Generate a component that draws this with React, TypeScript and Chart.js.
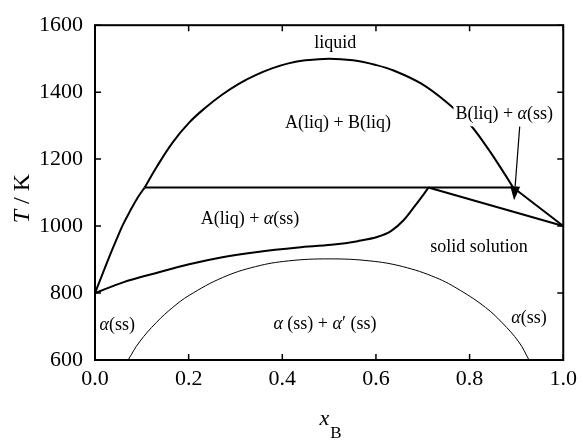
import React, { useEffect, useRef } from 'react';
import { Chart, registerables } from 'chart.js';
Chart.register(...registerables);

// ---- axis ticks ----
const xTickValues = [0, 0.2, 0.4, 0.6, 0.8, 1.0];
const yTickValues = [600, 800, 1000, 1200, 1400, 1600];

// ---- liquid miscibility dome ----
const domeX = [0.106, 0.131, 0.166, 0.201, 0.237, 0.272, 0.307, 0.343, 0.378, 0.413, 0.449, 0.5, 0.551, 0.6, 0.639, 0.696, 0.749, 0.798, 0.837, 0.872, 0.893];
const domeT = [1115, 1175, 1250, 1309, 1355, 1393, 1425, 1451, 1471, 1486, 1495, 1500, 1495, 1481, 1464, 1426, 1372, 1308, 1236, 1162, 1115];

// ---- left liquidus ----
const leftLiqX = [0, 0.018, 0.032, 0.046, 0.06, 0.078, 0.092, 0.106];
const leftLiqT = [800, 864, 913, 960, 1005, 1053, 1087, 1115];

// ---- horizontal three-phase line ----
const tieX = [0.106, 0.893];
const tieT = [1115, 1115];

// ---- right liquidus / solidus ----
const rightLiqX = [0.893, 1.0];
const rightLiqT = [1115, 1000];
const rightSolX = [0.712, 1.0];
const rightSolT = [1115, 1000];

// ---- solidus (left) ----
const solidusX = [0, 0.06, 0.131, 0.201, 0.272, 0.343, 0.434, 0.505, 0.561, 0.604, 0.632, 0.66, 0.682, 0.703, 0.712];
const solidusT = [800, 832, 860, 886, 907, 922, 936, 944, 955, 968, 985, 1019, 1058, 1097, 1115];

// ---- solid miscibility gap ----
const gapX = [0.0706, 0.095, 0.131, 0.166, 0.201, 0.272, 0.343, 0.413, 0.5, 0.587, 0.657, 0.728, 0.78, 0.834, 0.869, 0.905, 0.927];
const gapT = [600, 654, 712, 757, 793, 846, 879, 896, 902, 896, 879, 846, 808, 757, 712, 654, 600];

// ---- region labels: [text, italic] parts, anchored in data coords (baseline) ----
type Part = [string, boolean];
const regionLabels: { x: number; y: number; parts: Part[]; boxed?: boolean }[] = [
  { x: 0.513, y: 1533, parts: [['liquid', false]] },
  { x: 0.519, y: 1293, parts: [['A(liq) + B(liq)', false]] },
  { x: 0.874, y: 1319, parts: [['B(liq) + ', false], ['α', true], ['(ss)', false]], boxed: true },
  { x: 0.331, y: 1006, parts: [['A(liq) + ', false], ['α', true], ['(ss)', false]] },
  { x: 0.82, y: 922, parts: [['solid solution', false]] },
  { x: 0.0477, y: 691, parts: [['α', true], ['(ss)', false]] },
  { x: 0.491, y: 694, parts: [['α', true], [' (ss) + ', false], ['α', true], ['′ (ss)', false]] },
  { x: 0.927, y: 711, parts: [['α', true], ['(ss)', false]] },
];

const arrowFrom = { x: 0.907, y: 1297 };
const arrowTo = { x: 0.895, y: 1077 };

const FONT = '"Liberation Serif", "Times New Roman", serif';

function pts(xs: number[], ys: number[]) {
  return xs.map((x, i) => ({ x, y: ys[i] }));
}

function drawRich(ctx: CanvasRenderingContext2D, parts: Part[], cx: number, by: number, size: number) {
  const fonts = parts.map(([, it]) => `${it ? 'italic ' : ''}${size}px ${FONT}`);
  let w = 0;
  const ws = parts.map(([t], i) => {
    ctx.font = fonts[i];
    const m = ctx.measureText(t).width;
    w += m;
    return m;
  });
  return { w, draw: () => {
    let xx = cx - w / 2;
    ctx.textAlign = 'left';
    ctx.textBaseline = 'alphabetic';
    parts.forEach(([t], i) => {
      ctx.font = fonts[i];
      ctx.fillText(t, xx, by);
      xx += ws[i];
    });
  } };
}

const overlay = {
  id: 'overlay',
  afterDatasetsDraw(chart: any) {
    const { ctx, chartArea: a, scales } = chart;
    const xs = scales.x;
    const ys = scales.y;
    ctx.save();
    ctx.strokeStyle = '#000';
    ctx.fillStyle = '#000';
    // frame
    ctx.lineWidth = 2;
    ctx.strokeRect(a.left, a.top, a.right - a.left, a.bottom - a.top);
    // inward ticks, mirrored
    const tl = 6;
    ctx.lineWidth = 1.5;
    ctx.beginPath();
    xTickValues.forEach((v) => {
      const px = xs.getPixelForValue(v);
      ctx.moveTo(px, a.bottom); ctx.lineTo(px, a.bottom - tl);
      ctx.moveTo(px, a.top); ctx.lineTo(px, a.top + tl);
    });
    yTickValues.forEach((v) => {
      const py = ys.getPixelForValue(v);
      ctx.moveTo(a.left, py); ctx.lineTo(a.left + tl, py);
      ctx.moveTo(a.right, py); ctx.lineTo(a.right - tl, py);
    });
    ctx.stroke();

    // region labels
    regionLabels.forEach((l) => {
      const cx = xs.getPixelForValue(l.x);
      const by = ys.getPixelForValue(l.y);
      const r = drawRich(ctx, l.parts, cx, by, 18);
      if (l.boxed) {
        ctx.fillStyle = '#fff';
        ctx.fillRect(cx - r.w / 2 - 2, by - 17, r.w + 4, 24);
        ctx.fillStyle = '#000';
      }
      r.draw();
    });

    // arrow
    const x1 = xs.getPixelForValue(arrowFrom.x), y1 = ys.getPixelForValue(arrowFrom.y);
    const x2 = xs.getPixelForValue(arrowTo.x), y2 = ys.getPixelForValue(arrowTo.y);
    const ang = Math.atan2(y2 - y1, x2 - x1);
    const hl = 14, hw = 5;
    const bx = x2 - hl * Math.cos(ang), byy = y2 - hl * Math.sin(ang);
    ctx.lineWidth = 1.2;
    ctx.beginPath();
    ctx.moveTo(x1, y1); ctx.lineTo(bx, byy);
    ctx.stroke();
    ctx.beginPath();
    ctx.moveTo(x2, y2);
    ctx.lineTo(bx + hw * Math.sin(ang), byy - hw * Math.cos(ang));
    ctx.lineTo(bx - hw * Math.sin(ang), byy + hw * Math.cos(ang));
    ctx.closePath();
    ctx.fill();

    // axis titles
    const midY = (a.top + a.bottom) / 2;
    ctx.save();
    ctx.translate(a.left - 66, midY + 6);
    ctx.rotate(-Math.PI / 2);
    drawRich(ctx, [['T', true], [' / K', false]], 0, 0, 24).draw();
    ctx.restore();

    const midX = (a.left + a.right) / 2;
    ctx.font = `italic 22px ${FONT}`;
    const wx = ctx.measureText('x').width;
    ctx.font = `17px ${FONT}`;
    const wb = ctx.measureText('B').width;
    const sx = midX - (wx + wb) / 2 + 1;
    ctx.textAlign = 'left';
    ctx.textBaseline = 'alphabetic';
    ctx.font = `italic 22px ${FONT}`;
    ctx.fillText('x', sx, a.bottom + 65);
    ctx.font = `17px ${FONT}`;
    ctx.fillText('B', sx + wx + 1, a.bottom + 78);

    ctx.restore();
  },
};

export default function App() {
  const ref = useRef<HTMLCanvasElement>(null);
  useEffect(() => {
    document.body.style.margin = '0';
    const thick = { borderColor: '#000', borderWidth: 2, pointRadius: 0, showLine: true, fill: false };
    const chart = new Chart(ref.current!, {
      type: 'scatter',
      data: {
        datasets: [
          { ...thick, data: pts(domeX, domeT), tension: 0.4 },
          { ...thick, data: pts(leftLiqX, leftLiqT), tension: 0.4 },
          { ...thick, data: pts(tieX, tieT) },
          { ...thick, data: pts(rightLiqX, rightLiqT) },
          { ...thick, data: pts(rightSolX, rightSolT) },
          { ...thick, data: pts(solidusX, solidusT), cubicInterpolationMode: 'monotone' },
          { ...thick, borderWidth: 1, data: pts(gapX, gapT), tension: 0.4 },
        ] as any,
      },
      options: {
        responsive: false,
        animation: false,
        layout: { padding: { top: 18, right: 16, left: 0, bottom: 0 } },
        plugins: { legend: { display: false }, tooltip: { enabled: false } },
        scales: {
          x: {
            type: 'linear',
            min: 0,
            max: 1,
            afterFit: (s: any) => { s.height = 80; },
            afterBuildTicks: (s: any) => { s.ticks = xTickValues.map((v) => ({ value: v })); },
            grid: { display: false, drawTicks: false },
            border: { display: false },
            ticks: {
              padding: 6,
              color: '#000',
              font: { family: FONT, size: 22 },
              callback: (v: any) => Number(v).toFixed(1),
              maxRotation: 0,
            },
          },
          y: {
            type: 'linear',
            min: 600,
            max: 1600,
            afterFit: (s: any) => { s.width = 95; },
            afterBuildTicks: (s: any) => { s.ticks = yTickValues.map((v) => ({ value: v })); },
            grid: { display: false, drawTicks: false },
            border: { display: false },
            ticks: {
              padding: 12,
              color: '#000',
              font: { family: FONT, size: 22 },
              callback: (v: any) => String(v),
            },
          },
        },
      },
      plugins: [overlay],
    } as any);
    return () => chart.destroy();
  }, []);
  return (
    <div style={{ width: 583, height: 440 }}>
      <canvas ref={ref} width={583} height={440} />
    </div>
  );
}
